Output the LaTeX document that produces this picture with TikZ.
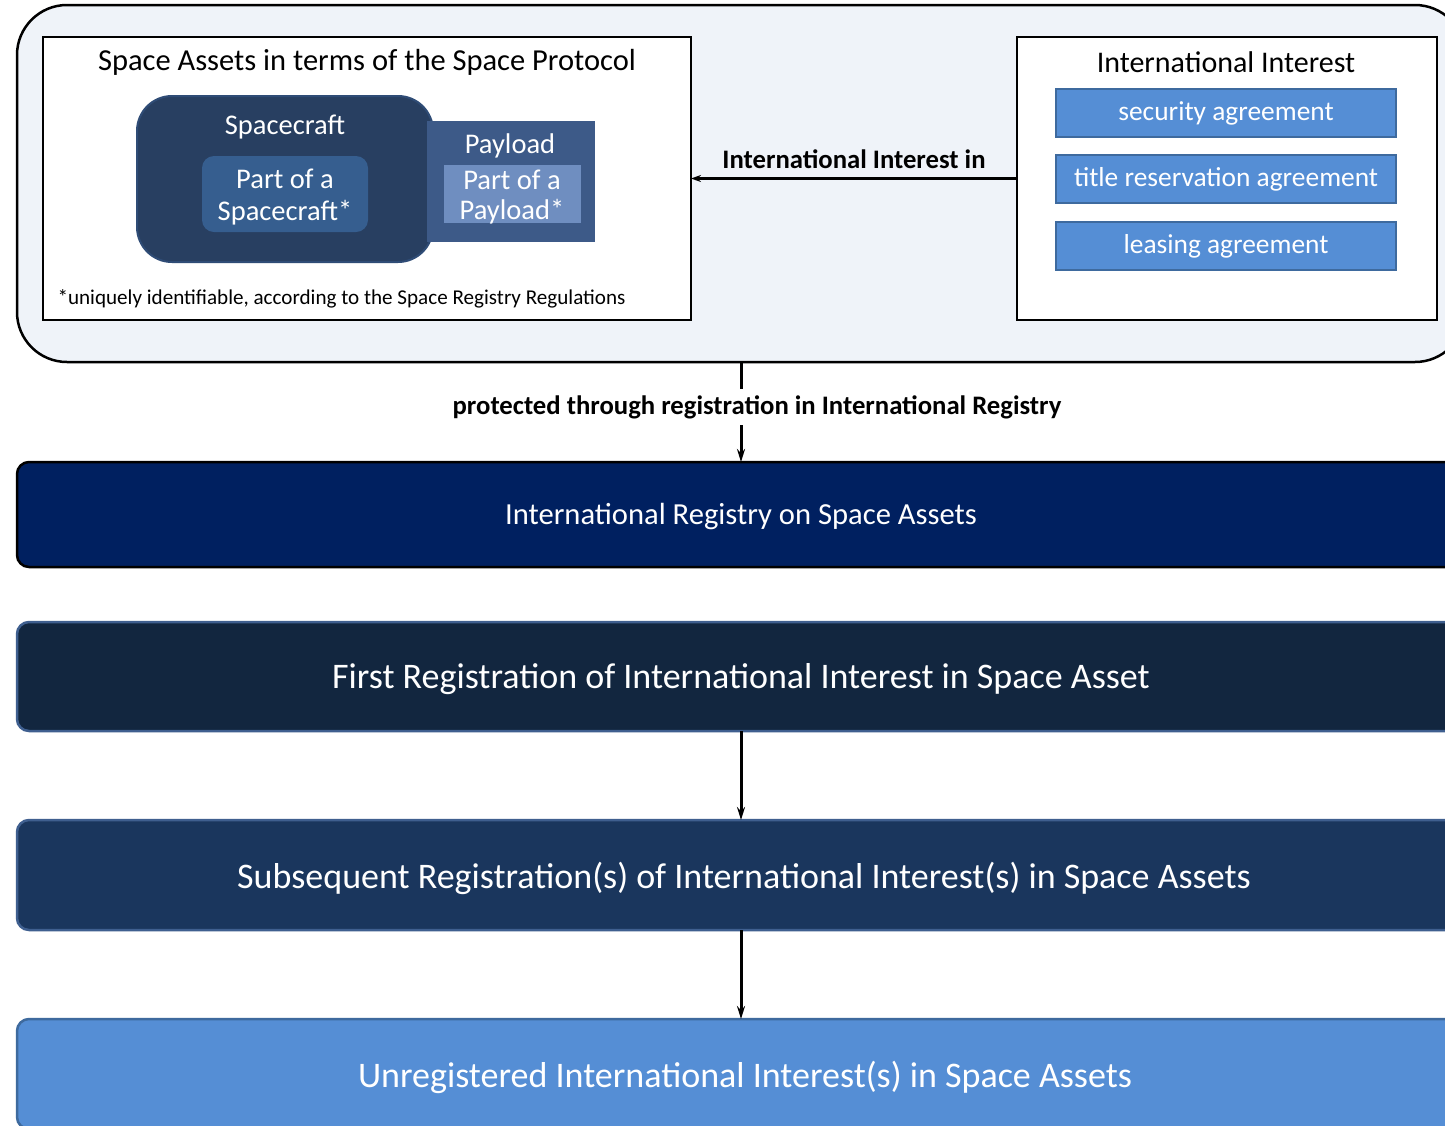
\documentclass[tikz,border=0pt]{standalone}
\usepackage{fontspec}
\setmainfont{Carlito}
\usetikzlibrary{arrows.meta}
\definecolor{outerfill}{HTML}{EFF3F9}
\definecolor{scfill}{HTML}{283F61}
\definecolor{scdraw}{HTML}{2F4C76}
\definecolor{partsc}{HTML}{365E8F}
\definecolor{plfill}{HTML}{3D5A88}
\definecolor{partpl}{HTML}{6F8EC0}
\definecolor{agfill}{HTML}{558ED5}
\definecolor{agdraw}{HTML}{3E6A9E}
\definecolor{barone}{HTML}{002060}
\definecolor{bartwo}{HTML}{12263F}
\definecolor{barthree}{HTML}{1A365D}
\definecolor{bardraw}{HTML}{3F5F8F}
\tikzset{
  boxbase/.style={inner sep=0pt, outer sep=0pt},
  whitebox/.style={boxbase, draw=black, line width=2pt, fill=white},
  agbox/.style={boxbase, draw=agdraw, line width=2pt, fill=agfill, text=white,
    minimum width=340pt, minimum height=48pt, font=\fontsize{27.4}{32}\selectfont},
  barbox/.style={boxbase, rounded corners=12pt, minimum width=1448pt, line width=2.5pt, text=white},
  bartext/.style={text=white, inner sep=0pt},
  arr/.style={line width=3pt, -{Stealth[length=13pt,width=8pt]}},
  lbl/.style={font=\bfseries\fontsize{26.7}{31}\selectfont, text=black},
  innertext/.style={text=white, align=center, inner sep=0pt, font=\fontsize{28.5}{31}\selectfont}
}
\begin{document}
\begin{tikzpicture}[x=1pt,y=-1pt]
\useasboundingbox (0,0) rectangle (1445,1125);
\clip (0,0) rectangle (1445,1125);
\fill[white] (0,0) rectangle (1445,1125);
% outer rounded container
\node[boxbase, draw=black, line width=2.5pt, fill=outerfill, rounded corners=50pt,
  minimum width=1448pt, minimum height=357pt] (outer) at (741,183.5) {};
% left box
\node[whitebox, minimum width=648pt, minimum height=283pt] (left) at (367,178.5) {};
\node[font=\fontsize{30.5}{35}\selectfont] (lefttitle) at (367,62) {Space Assets in terms of the Space Protocol};
\node[boxbase, draw=scdraw, line width=2pt, fill=scfill, rounded corners=35pt,
  minimum width=296pt, minimum height=166pt] (sc) at (285,179) {};
\node[innertext] (sclabel) at (285,127) {Spacecraft};
\node[boxbase, fill=partsc, rounded corners=12pt, minimum width=166pt, minimum height=76pt] (partsc) at (285,194) {};
\node[innertext, font=\fontsize{28.5}{32}\selectfont] (partsctext) at (285,197) {Part of a\\Spacecraft*};
\node[boxbase, draw=plfill, fill=plfill, minimum width=167pt, minimum height=120pt] (pl) at (510.5,181) {};
\node[innertext] (pllabel) at (510,146) {Payload};
\node[boxbase, fill=partpl, minimum width=137pt, minimum height=58pt] (partpl) at (512.5,194) {};
\node[innertext, font=\fontsize{28.5}{30}\selectfont] (partpltext) at (512,197) {Part of a\\Payload*};
\node[anchor=west, font=\fontsize{21.1}{25}\selectfont] (foot) at (54,299) {*uniquely identifiable, according to the Space Registry Regulations};
% right box
\node[whitebox, minimum width=420pt, minimum height=283pt] (right) at (1227,178.5) {};
\node[font=\fontsize{30}{35}\selectfont] (righttitle) at (1226,62) {International Interest};
\node[agbox] (ag1) at (1226,113) {security agreement};
\node[agbox] (ag2) at (1226,179) {title reservation agreement};
\node[agbox] (ag3) at (1226,246) {leasing agreement};
% arrow between boxes
\draw[line width=3pt, -{Stealth[length=10pt,width=7pt]}] (right.west) -- node[lbl, above=5pt] (iilbl) {International Interest in} (left.east);
% bars
\node[barbox, draw=black, fill=barone, minimum height=105pt] (bar1) at (741,514.5) {};
\node[bartext, font=\fontsize{30.6}{35}\selectfont] (bar1text) at (741,516) {International Registry on Space Assets};
\node[barbox, draw=bardraw, fill=bartwo, minimum height=109pt] (bar2) at (741,676.5) {};
\node[bartext, font=\fontsize{36}{42}\selectfont] (bar2text) at (741,679) {First Registration of International Interest in Space Asset};
\node[barbox, draw=bardraw, fill=barthree, minimum height=110pt] (bar3) at (741,875) {};
\node[bartext, font=\fontsize{36}{42}\selectfont] (bar3text) at (744,878) {Subsequent Registration(s) of International Interest(s) in Space Assets};
\node[barbox, draw=agdraw, fill=agfill, minimum height=110pt] (bar4) at (741,1074) {};
\node[bartext, font=\fontsize{36}{42}\selectfont] (bar4text) at (745,1077) {Unregistered International Interest(s) in Space Assets};
% vertical arrows
\draw[arr] (outer.south) -- node[lbl, pos=0.45, xshift=16pt, fill=white, inner sep=6pt] (protlbl) {protected through registration in International Registry} (bar1.north);
\draw[arr] (bar2.south) -- (bar3.north);
\draw[arr] (bar3.south) -- (bar4.north);
\end{tikzpicture}
\end{document}
